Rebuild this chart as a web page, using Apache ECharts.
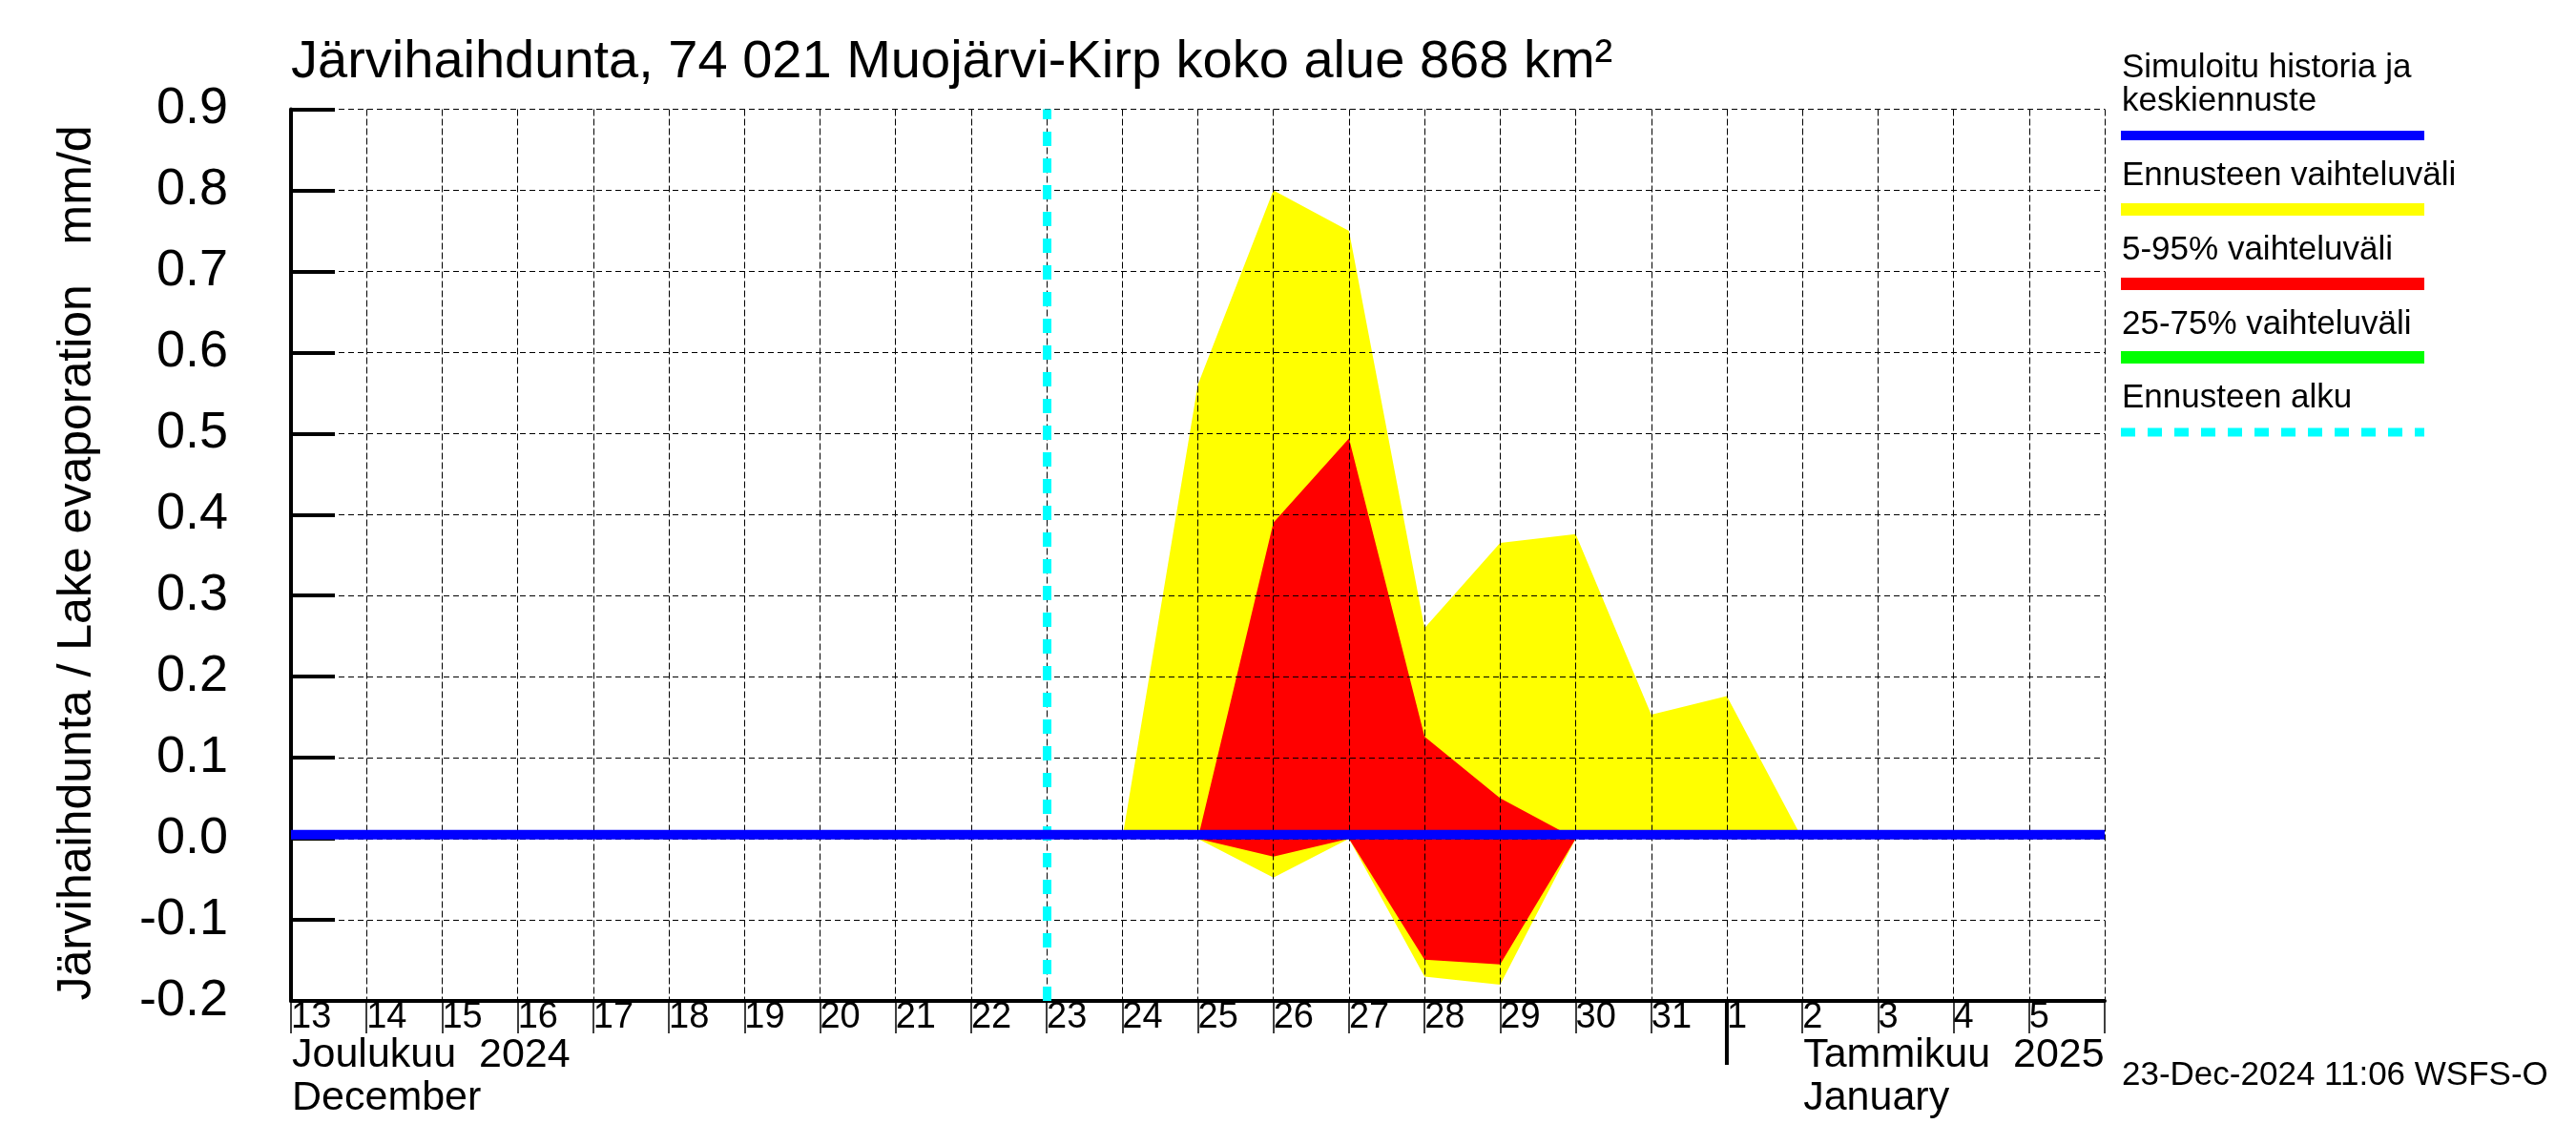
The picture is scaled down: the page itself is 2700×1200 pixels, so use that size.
<!DOCTYPE html>
<html>
<head>
<meta charset="utf-8">
<script src="https://cdn.jsdelivr.net/npm/echarts@6/dist/echarts.min.js"></script>
<style>
html,body{margin:0;padding:0;background:#fff;}
#c{width:2700px;height:1200px;}
</style>
</head>
<body>
<div id="c"></div>
<script>
// ---------------- DATA ----------------
const titleText = 'Järvihaihdunta, 74 021 Muojärvi-Kirp koko alue 868 km²';
const yAxisTitle = 'Järvihaihdunta / Lake evaporation   mm/d';
const axisStartDate = '2024-12-13';
const axisEndDate = '2025-01-06';
const dayLabels = ['13','14','15','16','17','18','19','20','21','22','23','24','25','26','27','28','29','30','31','1','2','3','4','5'];
const yTickLabels = ['-0.2','-0.1','0.0','0.1','0.2','0.3','0.4','0.5','0.6','0.7','0.8','0.9'];
const monthLabelsFi = ['Joulukuu  2024', 'Tammikuu  2025'];
const monthLabelsEn = ['December', 'January'];
const monthLabelDates = ['2024-12-13', '2025-01-02'];
const monthBoundaryDate = '2025-01-01';
const forecastStartDate = '2024-12-23';

const medianDates = ['2024-12-13','2024-12-14','2024-12-15','2024-12-16','2024-12-17','2024-12-18','2024-12-19','2024-12-20','2024-12-21','2024-12-22','2024-12-23','2024-12-24','2024-12-25','2024-12-26','2024-12-27','2024-12-28','2024-12-29','2024-12-30','2024-12-31','2025-01-01','2025-01-02','2025-01-03','2025-01-04','2025-01-05','2025-01-06'];
const medianValues = [0.005,0.005,0.005,0.005,0.005,0.005,0.005,0.005,0.005,0.005,0.005,0.005,0.005,0.005,0.005,0.005,0.005,0.005,0.005,0.005,0.005,0.005,0.005,0.005,0.005];

const forecastDates = ['2024-12-24','2024-12-25','2024-12-26','2024-12-27','2024-12-28','2024-12-29','2024-12-30','2024-12-31','2025-01-01','2025-01-02'];
const rangeMax = [0, 0.56, 0.80, 0.75, 0.26, 0.365, 0.376, 0.153, 0.176, 0];
const rangeMin = [0, 0, -0.048, 0, -0.17, -0.18, 0, 0, 0, 0];
const p95 = [0, 0, 0.39, 0.494, 0.126, 0.05, 0, 0, 0, 0];
const p5  = [0, 0, -0.022, 0, -0.149, -0.155, 0, 0, 0, 0];
const p75 = [0, 0, 0, 0, 0, 0, 0, 0, 0, 0];
const p25 = [0, 0, 0, 0, 0, 0, 0, 0, 0, 0];

const footerText = '23-Dec-2024 11:06 WSFS-O';
const legendItems = ['Simuloitu historia ja', 'keskiennuste', 'Ennusteen vaihteluväli', '5-95% vaihteluväli', '25-75% vaihteluväli', 'Ennusteen alku'];

// ---------------- HELPERS ----------------
const FONT = '"Liberation Sans", Arial, Helvetica, sans-serif';
function utc(s){ const p = s.split('-').map(Number); return Date.UTC(p[0], p[1]-1, p[2]); }
function dayIndex(s){ return (utc(s) - utc(axisStartDate)) / 86400000; }
const xMax = dayIndex(axisEndDate);

function band(lower, upper, color, name){
  const n = forecastDates.length;
  return {
    type:'custom', name:name, z:1, silent:true, clip:true,
    encode:{x:0, y:[1,2]},
    data: forecastDates.map((d,i)=>[dayIndex(d), lower[i], upper[i]]),
    renderItem:function(params, api){
      if (params.dataIndex !== 0) return null;
      const pts = [];
      for (let j = 0; j < n; j++) pts.push(api.coord([api.value(0, j), api.value(2, j)]));
      for (let j = n - 1; j >= 0; j--) pts.push(api.coord([api.value(0, j), api.value(1, j)]));
      return { type:'polygon', silent:true, shape:{points:pts}, style:{fill:color, stroke:null} };
    }
  };
}

const chart = echarts.init(document.getElementById('c'), null, {renderer:'canvas'});

const option = {
  animation:false,
  backgroundColor:'#ffffff',
  title:{ text:titleText, left:305, top:38, padding:0,
    textStyle:{fontFamily:FONT, fontSize:56, lineHeight:56, fontWeight:'normal', color:'#000'} },
  grid:{ left:305, right:494, top:114.5, bottom:151, containLabel:false },
  xAxis:{ type:'value', min:0, max:xMax, interval:1, z:3,
    axisLine:{show:true, onZero:false, lineStyle:{color:'#000', width:4}},
    axisTick:{show:true, inside:false, length:34, lineStyle:{color:'#000', width:1.5}},
    axisLabel:{show:true, margin:18, align:'left', verticalAlign:'middle', fontFamily:FONT, fontSize:38, color:'#000',
      formatter:function(v){ const s = dayLabels[Math.round(v)]; return s === undefined ? '' : s; }},
    splitLine:{show:true, lineStyle:{color:'#000', width:1, type:[7,3]}} },
  yAxis:{ type:'value', min:-0.2, max:0.9, interval:0.1, z:3,
    axisLine:{show:true, onZero:false, lineStyle:{color:'#000', width:4}},
    axisTick:{show:true, inside:true, length:46, lineStyle:{color:'#000', width:4}},
    axisLabel:{margin:66, fontFamily:FONT, fontSize:54, color:'#000', padding:[0,0,18,0],
      formatter:function(v){ const s = yTickLabels[Math.round((v + 0.2) * 10)]; return s === undefined ? '' : s; }},
    splitLine:{show:true, lineStyle:{color:'#000', width:1, type:[6,4]}} },
  series: [
    band(rangeMin, rangeMax, '#ffff00', 'Ennusteen vaihteluväli'),
    band(p5, p95, '#ff0000', '5-95% vaihteluväli'),
    band(p25, p75, '#00ff00', '25-75% vaihteluväli'),
    { type:'line', name:'Simuloitu historia ja keskiennuste', z:5, symbol:'none', silent:true,
      lineStyle:{color:'#0000ff', width:10},
      data: medianDates.map((d,i)=>[dayIndex(d), medianValues[i]]),
      markLine:{ silent:true, symbol:'none', label:{show:false},
        lineStyle:{color:'#00ffff', width:9, type:[15,13]},
        data:[{xAxis: dayIndex(forecastStartDate)}] } }
  ]
};
chart.setOption(option);

// ---------------- DECORATIONS (legend, month labels) ----------------
const boundaryPx = chart.convertToPixel({gridIndex:0}, [dayIndex(monthBoundaryDate), -0.2]);
const m0 = chart.convertToPixel({gridIndex:0}, [dayIndex(monthLabelDates[0]), -0.2]);
const m1 = chart.convertToPixel({gridIndex:0}, [dayIndex(monthLabelDates[1]), -0.2]);

const txt = (t, x, y, size) => ({
  type:'text', x:x, y:y, silent:true,
  style:{text:t, fill:'#000', font: size + 'px ' + FONT, textAlign:'left', textVerticalAlign:'middle'}
});

const LX = 2223, LW = 318;
const graphics = [
  { type:'text', x:81, y:590, rotation:Math.PI/2, silent:true,
    style:{text:yAxisTitle, fill:'#000', font:'50px ' + FONT, textAlign:'center', textVerticalAlign:'middle'} },
  { type:'line', silent:true, shape:{x1:boundaryPx[0], y1:boundaryPx[1], x2:boundaryPx[0], y2:boundaryPx[1] + 67},
    style:{stroke:'#000', lineWidth:4} },
  txt(monthLabelsFi[0], m0[0] + 1, 1106, 43),
  txt(monthLabelsEn[0], m0[0] + 1, 1151, 43),
  txt(monthLabelsFi[1], m1[0] + 1, 1106, 43),
  txt(monthLabelsEn[1], m1[0] + 1, 1151, 43),
  txt(footerText, 2224, 1127, 35),
  txt(legendItems[0], LX + 1, 71, 35),
  txt(legendItems[1], LX + 1, 106, 35),
  { type:'rect', silent:true, shape:{x:LX, y:137, width:LW, height:10}, style:{fill:'#0000ff'} },
  txt(legendItems[2], LX + 1, 184, 35),
  { type:'rect', silent:true, shape:{x:LX, y:213, width:LW, height:13}, style:{fill:'#ffff00'} },
  txt(legendItems[3], LX + 1, 262, 35),
  { type:'rect', silent:true, shape:{x:LX, y:291, width:LW, height:13}, style:{fill:'#ff0000'} },
  txt(legendItems[4], LX + 1, 340, 35),
  { type:'rect', silent:true, shape:{x:LX, y:368, width:LW, height:13}, style:{fill:'#00ff00'} },
  txt(legendItems[5], LX + 1, 417, 35),
  { type:'line', silent:true, shape:{x1:LX, y1:453, x2:LX + LW, y2:453},
    style:{stroke:'#00ffff', lineWidth:9, lineDash:[15,13]} }
];
chart.setOption({graphic: graphics});
</script>
</body>
</html>
